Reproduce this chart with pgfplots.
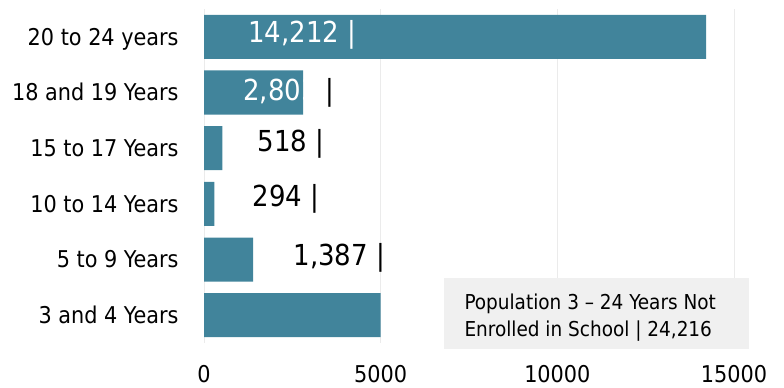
\documentclass[border=0pt]{standalone}
\usepackage{pgfplots}
\pgfplotsset{compat=1.18}
\usepackage{fontspec}
\setmainfont{DejaVu Sans Condensed}
\definecolor{barc}{HTML}{41849B}
\definecolor{boxc}{HTML}{F0F0F0}
\definecolor{gridc}{HTML}{EBEBEB}
\begin{document}
\begin{tikzpicture}[x=1bp,y=1bp]
\useasboundingbox (0,0) rectangle (784,387);
\begin{axis}[
 at={(204bp,44bp)}, anchor=south west,
 width=530bp, height=334bp, scale only axis,
 xbar, bar width=44bp,
 xmin=0, xmax=15000, ymin=-0.5, ymax=5.5,
 ytick={0,...,5},
 yticklabels={3 and 4 Years, 5 to 9 Years, 10 to 14 Years, 15 to 17 Years, 18 and 19 Years, 20 to 24 years},
 xtick={0,5000,10000,15000},
 scaled x ticks=false,
 xmajorgrids, major grid style={gridc, line width=1bp},
 axis line style={draw=none}, tick style={draw=none},
 /pgf/number format/1000 sep={},
 /pgf/number format/assume math mode=true,
 tick label style={font=\fontsize{23.2}{27}\selectfont, inner sep=0pt},
 yticklabel style={anchor=base east, xshift=-21bp, yshift=-8.3bp},
 xticklabel style={anchor=base, yshift=-39bp},
 clip=false,
]
\addplot[fill=barc, draw=none] coordinates {(5002,0) (1387,1) (294,2) (518,3) (2803,4) (14212,5)};
\node[anchor=base west, inner sep=0pt, font=\fontsize{29}{35}\selectfont, text=white] at (axis cs:1245,4.898) {14,212 |};
\node[anchor=base west, inner sep=0pt, font=\fontsize{29}{35}\selectfont] at (axis cs:1104,3.856) {\textcolor{white}{2,803} |};
\node[anchor=base west, inner sep=0pt, font=\fontsize{29}{35}\selectfont] at (axis cs:1520,2.934) {518 |};
\node[anchor=base west, inner sep=0pt, font=\fontsize{29}{35}\selectfont] at (axis cs:1367,1.946) {294 |};
\node[anchor=base west, inner sep=0pt, font=\fontsize{29}{35}\selectfont] at (axis cs:2527,0.901) {1,387 |};
\end{axis}
\fill[boxc] (444.3,37.7) rectangle (749,108.7);
\node[anchor=base west, inner sep=0pt, font=\fontsize{20.6}{26.7}\selectfont] at (464.3,77.7) {Population 3 – 24 Years Not};
\node[anchor=base west, inner sep=0pt, font=\fontsize{20.6}{26.7}\selectfont] at (464.3,51) {Enrolled in School | 24,216};
\end{tikzpicture}
\end{document}
